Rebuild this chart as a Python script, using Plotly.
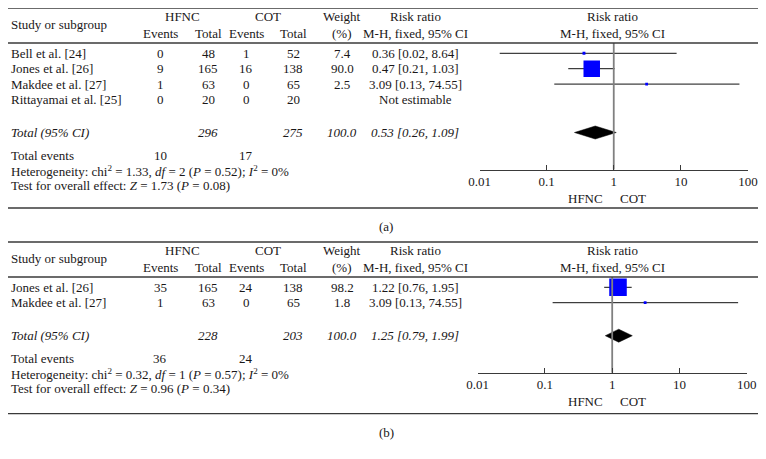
import plotly.graph_objects as go

# ---------------- data ----------------
a_study = ["Bell et al. [24]", "Jones et al. [26]", "Makdee et al. [27]", "Rittayamai et al. [25]"]
a_hfnc_events = [0, 9, 1, 0]
a_hfnc_total = [48, 165, 63, 20]
a_cot_events = [1, 16, 0, 0]
a_cot_total = [52, 138, 65, 20]
a_weight = [7.4, 90.0, 2.5, None]
a_rr = [0.36, 0.47, 3.09, None]
a_lo = [0.02, 0.21, 0.13, None]
a_hi = [8.64, 1.03, 74.55, None]
a_sum = [296, 275, 100.0]          # HFNC total, COT total, weight
a_sum_rr = [0.53, 0.26, 1.09]      # estimate, lower, upper
a_events = [10, 17]
a_het = [1.33, 2, 0.52, 0]         # chi2, df, P, I2
a_test = [1.73, 0.08]              # Z, P

b_study = ["Jones et al. [26]", "Makdee et al. [27]"]
b_hfnc_events = [35, 1]
b_hfnc_total = [165, 63]
b_cot_events = [24, 0]
b_cot_total = [138, 65]
b_weight = [98.2, 1.8]
b_rr = [1.22, 3.09]
b_lo = [0.76, 0.13]
b_hi = [1.95, 74.55]
b_sum = [228, 203, 100.0]
b_sum_rr = [1.25, 0.79, 1.99]
b_events = [36, 24]
b_het = [0.32, 1, 0.57, 0]
b_test = [0.96, 0.34]

tick_vals = [0.01, 0.1, 1, 10, 100]
tick_text = ["0.01", "0.1", "1", "10", "100"]

# ---------------- style ----------------
PAGE_W, PAGE_H = 766, 459
OFF = 8                      # default page (body) margin around the figure
W, H = PAGE_W - 2 * OFF, PAGE_H - 2 * OFF
FONT = "Liberation Serif"
FS = 13
TXT = "#1a1718"
BLUE = "#0000ff"

fig = go.Figure()
ann = []
shapes = []


def px(x):
    """page pixel x -> paper fraction"""
    return (x - OFF) / W


def text(x, y, s, anchor="center", size=FS):
    ann.append(dict(x=px(x), y=y, xref="paper", yref="y", text=s, showarrow=False,
                    xanchor=anchor, yanchor="middle",
                    font=dict(family=FONT, size=size, color=TXT)))


def hline(y, x0=8, x1=758):
    shapes.append(dict(type="line", xref="paper", yref="y", x0=px(x0), x1=px(x1),
                       y0=y, y1=y, line=dict(color="#3a3a3a", width=1.3)))


def fmt_rr(v, lo, hi):
    return f"{v:.2f} [{lo:.2f}, {hi:.2f}]"


def panel(top, xax, dom, label, bottom_gap, study, he, ht, ce, ct, wt, rr, lo, hi, sm, smrr, ev, het, test):
    c_ev1, c_t1, c_ev2, c_t2, c_w, c_rr, c_plot = 160, 208, 246, 293, 342, 415, 612
    hline(top)
    text(182, top + 8.5, "HFNC")
    text(268, top + 8.5, "COT")
    text(342, top + 8.5, "Weight")
    text(c_rr, top + 8.5, "Risk ratio")
    text(c_plot, top + 8.5, "Risk ratio")
    text(9, top + 16.5, "Study or subgroup", "left")
    for c, s in [(c_ev1, "Events"), (c_t1, "Total"), (c_ev2, "Events"), (c_t2, "Total"),
                 (c_w, "(%)"), (c_rr, "M-H, fixed, 95% CI"), (c_plot, "M-H, fixed, 95% CI")]:
        text(c, top + 25, s)
    hl = top + 35
    hline(hl)

    ys = [top + 45.3 + 15.4 * i for i in range(len(study))]
    for i, y in enumerate(ys):
        text(9, y, study[i], "left")
        text(c_ev1, y, str(he[i]))
        text(c_t1, y, str(ht[i]))
        text(c_ev2, y, str(ce[i]))
        text(c_t2, y, str(ct[i]))
        if wt[i] is not None:
            text(c_w, y, f"{wt[i]:.1f}")
            text(c_rr, y, fmt_rr(rr[i], lo[i], hi[i]))
            fig.add_trace(go.Scatter(x=[lo[i], hi[i]], y=[y, y], mode="lines",
                                     line=dict(color="#111", width=1), xaxis=xax, yaxis="y",
                                     hoverinfo="skip", showlegend=False))
            fig.add_trace(go.Scatter(x=[rr[i]], y=[y], mode="markers",
                                     marker=dict(symbol="square", color=BLUE,
                                                 size=max(2.8, 16.5 * (wt[i] / 90.0) ** 0.7),
                                                 line=dict(width=0)),
                                     xaxis=xax, yaxis="y", hoverinfo="skip", showlegend=False))
        else:
            text(c_rr, y, "Not estimable")

    yt = ys[-1] + 33
    text(9, yt, "<i>Total (95% CI)</i>", "left")
    text(c_t1, yt, f"<i>{sm[0]}</i>")
    text(c_t2, yt, f"<i>{sm[1]}</i>")
    text(c_w, yt, f"<i>{sm[2]:.1f}</i>")
    text(c_rr, yt, "<i>" + fmt_rr(*smrr) + "</i>")
    est, l, h = smrr
    hd = 6.5
    fig.add_trace(go.Scatter(x=[l, est, h, est, l], y=[yt, yt - hd, yt, yt + hd, yt],
                             mode="lines", fill="toself", fillcolor="#000",
                             line=dict(color="#000", width=0.5), xaxis=xax, yaxis="y",
                             hoverinfo="skip", showlegend=False))

    yte = yt + 23
    text(9, yte, "Total events", "left")
    text(c_ev1, yte, str(ev[0]))
    text(c_ev2, yte, str(ev[1]))
    text(9, yte + 15,
         f"Heterogeneity: chi<sup>2</sup> = {het[0]:.2f}, <i>df</i> = {het[1]} (<i>P</i> = {het[2]:.2f}); "
         f"<i>I</i><sup>2</sup> = {het[3]}%", "left")
    text(9, yte + 30, f"Test for overall effect: <i>Z</i> = {test[0]:.2f} (<i>P</i> = {test[1]:.2f})", "left")

    axis_y = yte + 14
    # null line
    fig.add_trace(go.Scatter(x=[1, 1], y=[hl, axis_y], mode="lines",
                             line=dict(color="#808080", width=1.8), xaxis=xax, yaxis="y",
                             hoverinfo="skip", showlegend=False))
    text(605, axis_y + 28.5, "HFNC", "right")
    text(618, axis_y + 28.5, "COT", "left")
    hline(axis_y + bottom_gap)
    text(386, axis_y + bottom_gap + 18.5, label)

    axname = "xaxis" if xax == "x" else "xaxis2"
    return axname, dict(type="log", range=[-2, 2], domain=[px(dom[0]), px(dom[1])],
                        anchor="free", position=(OFF + H - axis_y) / H, automargin=False,
                        showline=True, linecolor="#3a3a3a", linewidth=1,
                        ticks="inside", ticklen=5, tickcolor="#3a3a3a", tickwidth=1,
                        tickvals=tick_vals, ticktext=tick_text,
                        showgrid=False, zeroline=False, fixedrange=True,
                        tickfont=dict(family=FONT, size=FS, color=TXT))


n1, ax1 = panel(8, "x", (479.5, 748), "(a)", 38.5, a_study, a_hfnc_events, a_hfnc_total,
                a_cot_events, a_cot_total, a_weight, a_rr, a_lo, a_hi, a_sum, a_sum_rr,
                a_events, a_het, a_test)
n2, ax2 = panel(242, "x2", (477.7, 746.7), "(b)", 41, b_study, b_hfnc_events, b_hfnc_total,
                b_cot_events, b_cot_total, b_weight, b_rr, b_lo, b_hi, b_sum, b_sum_rr,
                b_events, b_het, b_test)

fig.update_layout(
    width=W, height=H, margin=dict(l=0, r=0, t=0, b=0, pad=0, autoexpand=False),
    paper_bgcolor="white", plot_bgcolor="rgba(0,0,0,0)",
    showlegend=False,
    yaxis=dict(range=[OFF + H, OFF], domain=[0, 1], visible=False, fixedrange=True, automargin=False),
    annotations=ann, shapes=shapes,
    font=dict(family=FONT, size=FS, color=TXT),
)
fig.update_layout(**{n1: ax1, n2: ax2})

fig.write_html("out.html")
